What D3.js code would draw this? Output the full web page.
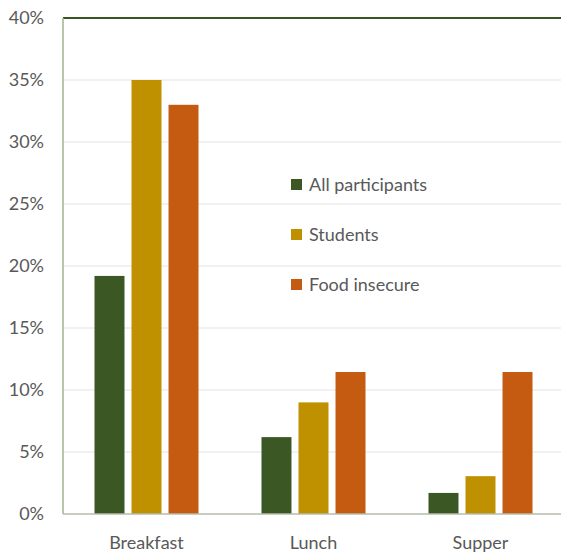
<!DOCTYPE html>
<meta charset="utf-8">
<head>
  <script src="https://cdn.jsdelivr.net/npm/d3@7"></script>
  <style>
    body { margin: 0; background: #fff; }
    text { font-family: Lato, "Open Sans", sans-serif; fill: #595959; }
  </style>
</head>
<body>
<script type="text/javascript">

// data
var meals = ["Breakfast", "Lunch", "Supper"];
var groups = ["All participants", "Students", "Food insecure"];
var allParticipants = [19.2, 6.2, 1.7];
var students = [35.0, 9.0, 3.05];
var foodInsecure = [33.0, 11.45, 11.45];
var yTicks = [0, 5, 10, 15, 20, 25, 30, 35, 40];
var colors = ["#3b5724", "#bf9000", "#c55a11"];

var series = [allParticipants, students, foodInsecure];

var w = 561, h = 553;
var mLeft = 63, mRight = 564, mTop = 18, mBottom = 514;

var svg = d3.select("body").append("svg")
    .attr("width", w)
    .attr("height", h);

var x = d3.scaleBand().domain(meals).range([mLeft, mRight]).paddingInner(0).paddingOuter(0);
var x1 = d3.scaleBand().domain(groups).range([0, 104]).paddingInner(0.19);
var xoff = (x.bandwidth() - 104) / 2;
var y = d3.scaleLinear().domain([0, 40]).range([mBottom, mTop]);

// grid
svg.selectAll("line.grid")
  .data(yTicks.filter(function(d){ return d > 0 && d < 40; }))
  .enter().append("line")
  .attr("x1", mLeft).attr("x2", w)
  .attr("y1", function(d){ return y(d); })
  .attr("y2", function(d){ return y(d); })
  .attr("stroke", "#e3e3e3")
  .attr("stroke-width", 1.2);

// top border
svg.append("line")
  .attr("x1", mLeft).attr("x2", w)
  .attr("y1", y(40)).attr("y2", y(40))
  .attr("stroke", "#375623").attr("stroke-width", 1.8);

// bars
meals.forEach(function(m, i){
  svg.selectAll(null)
    .data(groups)
    .enter().append("rect")
    .attr("x", function(g){ return x(m) + xoff + x1(g); })
    .attr("width", x1.bandwidth())
    .attr("y", function(g, j){ return y(series[j][i]); })
    .attr("height", function(g, j){ return mBottom - y(series[j][i]); })
    .attr("fill", function(g, j){ return colors[j]; });
});

// left axis line
svg.append("line")
  .attr("x1", mLeft).attr("x2", mLeft)
  .attr("y1", mTop).attr("y2", mBottom)
  .attr("stroke", "#a3b391").attr("stroke-width", 1.5);

// baseline
svg.append("line")
  .attr("x1", mLeft).attr("x2", w)
  .attr("y1", mBottom).attr("y2", mBottom)
  .attr("stroke", "#b4bcab").attr("stroke-width", 1.5);

// y labels
svg.selectAll("text.ytick")
  .data(yTicks)
  .enter().append("text")
  .attr("x", 44)
  .attr("y", function(d){ return y(d) + 6; })
  .attr("text-anchor", "end")
  .style("font-size", "18px")
  .text(function(d){ return d + "%"; });

// x labels
svg.selectAll("text.xtick")
  .data(meals)
  .enter().append("text")
  .attr("x", function(d){ return x(d) + x.bandwidth() / 2; })
  .attr("y", 549)
  .attr("text-anchor", "middle")
  .style("font-size", "18px")
  .text(function(d){ return d; });

// legend
var leg = svg.selectAll("g.leg")
  .data(groups)
  .enter().append("g")
  .attr("transform", function(d, i){ return "translate(291," + (179 + i * 50) + ")"; });

leg.append("rect")
  .attr("width", 11).attr("height", 11)
  .attr("fill", function(d, i){ return colors[i]; });

leg.append("text")
  .attr("x", 18).attr("y", 12)
  .style("font-size", "18px")
  .text(function(d){ return d; });

</script>
</body>
